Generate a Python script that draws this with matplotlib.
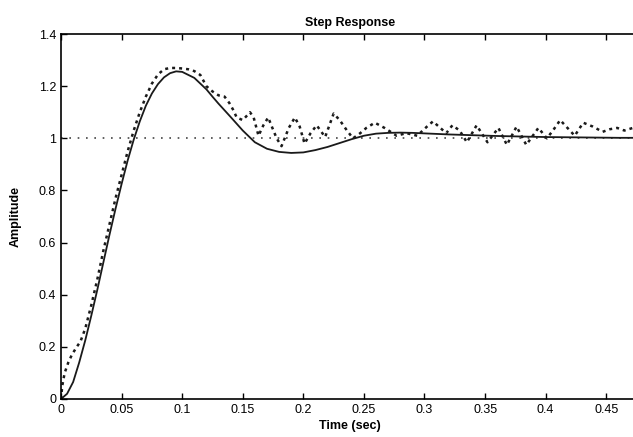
import matplotlib
matplotlib.use("Agg")
import matplotlib.pyplot as plt

# ideal (model) step response - solid line
t_model = [0.0, 0.005, 0.01, 0.015, 0.02, 0.025, 0.03, 0.035, 0.04, 0.045,
           0.05, 0.055, 0.06, 0.065, 0.07, 0.075, 0.08, 0.085, 0.09, 0.095,
           0.1, 0.11, 0.12, 0.125, 0.13, 0.14, 0.15, 0.16, 0.17, 0.18,
           0.19, 0.2, 0.21, 0.22, 0.23, 0.24, 0.25, 0.26, 0.27, 0.28,
           0.29, 0.3, 0.32, 0.34, 0.36, 0.38, 0.4, 0.42, 0.44, 0.46, 0.48]
y_model = [0.0, 0.02, 0.065, 0.14, 0.225, 0.32, 0.42, 0.525, 0.63, 0.73,
           0.825, 0.915, 0.995, 1.065, 1.125, 1.172, 1.208, 1.234, 1.25, 1.257,
           1.255, 1.232, 1.188, 1.16, 1.133, 1.082, 1.03, 0.985, 0.96, 0.948,
           0.944, 0.946, 0.955, 0.967, 0.982, 0.997, 1.01, 1.018, 1.021, 1.022,
           1.021, 1.019, 1.015, 1.012, 1.009, 1.007, 1.005, 1.004, 1.003, 1.002, 1.002]

# measured (noisy) response - dotted line
t_meas = [0.0, 0.001, 0.003, 0.006, 0.009, 0.013, 0.016, 0.02, 0.025, 0.03,
          0.035, 0.04, 0.045, 0.05, 0.055, 0.06, 0.065, 0.07, 0.075, 0.08,
          0.085, 0.09, 0.095, 0.1, 0.105, 0.11, 0.115, 0.12, 0.125, 0.13,
          0.135, 0.139, 0.142, 0.145, 0.15, 0.156, 0.159, 0.163, 0.167, 0.171,
          0.174, 0.178, 0.182, 0.188, 0.193, 0.197, 0.201, 0.206, 0.211, 0.218,
          0.225, 0.23, 0.236, 0.241, 0.247, 0.252, 0.259, 0.267, 0.277, 0.285,
          0.294, 0.302, 0.307, 0.313, 0.318, 0.323, 0.329, 0.335, 0.343, 0.352,
          0.361, 0.368, 0.376, 0.384, 0.394, 0.401, 0.406, 0.412, 0.418, 0.424,
          0.431, 0.439, 0.447, 0.453, 0.459, 0.465, 0.472]
y_meas = [0.0, 0.05, 0.10, 0.14, 0.17, 0.20, 0.22, 0.27, 0.36, 0.46,
          0.57, 0.67, 0.77, 0.86, 0.95, 1.03, 1.10, 1.16, 1.21, 1.245,
          1.265, 1.27, 1.27, 1.268, 1.265, 1.258, 1.243, 1.20, 1.18, 1.165,
          1.16, 1.135, 1.11, 1.08, 1.07, 1.10, 1.08, 1.01, 1.05, 1.08,
          1.045, 1.00, 0.97, 1.04, 1.08, 1.045, 0.98, 1.02, 1.05, 1.005,
          1.095, 1.07, 1.03, 1.00, 1.02, 1.04, 1.06, 1.04, 1.01, 1.02,
          1.01, 1.045, 1.065, 1.04, 1.02, 1.05, 1.03, 0.985, 1.05, 0.985,
          1.04, 0.975, 1.045, 0.975, 1.04, 1.00, 1.03, 1.07, 1.04, 1.01,
          1.06, 1.045, 1.025, 1.035, 1.04, 1.03, 1.04]

x_ticks = [0, 0.05, 0.1, 0.15, 0.2, 0.25, 0.3, 0.35, 0.4, 0.45]
x_labels = ["0", "0.05", "0.1", "0.15", "0.2", "0.25", "0.3", "0.35", "0.4", "0.45"]
y_ticks = [0, 0.2, 0.4, 0.6, 0.8, 1.0, 1.2, 1.4]
y_labels = ["0", "0.2", "0.4", "0.6", "0.8", "1", "1.2", "1.4"]

plt.rcParams['font.family'] = ['Liberation Sans', 'DejaVu Sans']

fig = plt.figure(figsize=(6.33, 4.37), dpi=100)
ax = fig.add_axes([0.0964, 0.087, 0.913, 0.835])

# steady state reference
ax.plot([0, 0.5], [1, 1], color="#444444", lw=1.2, linestyle=(0, (1, 4)))
ax.plot(t_model, y_model, color="#1a1a1a", lw=1.3)
ax.plot(t_meas, y_meas, color="#1a1a1a", lw=1.8, linestyle=(0, (1.2, 1.6)))

ax.set_xlim(0, 0.477)
ax.set_ylim(0, 1.4)
ax.set_xticks(x_ticks)
ax.set_xticklabels(x_labels)
ax.set_yticks(y_ticks)
ax.set_yticklabels(y_labels)
ax.tick_params(direction="in", top=True, length=4, labelsize=9, width=1)
ax.spines["right"].set_visible(False)
for s in ["left", "top", "bottom"]:
    ax.spines[s].set_linewidth(1.2)

ax.set_title("Step Response", fontsize=9, fontweight="bold", pad=6)
ax.set_xlabel("Time (sec)", fontsize=9, fontweight="bold", labelpad=3)
ax.set_ylabel("Amplitude", fontsize=9, fontweight="bold", labelpad=12)

fig.savefig("out.png", dpi=100)
